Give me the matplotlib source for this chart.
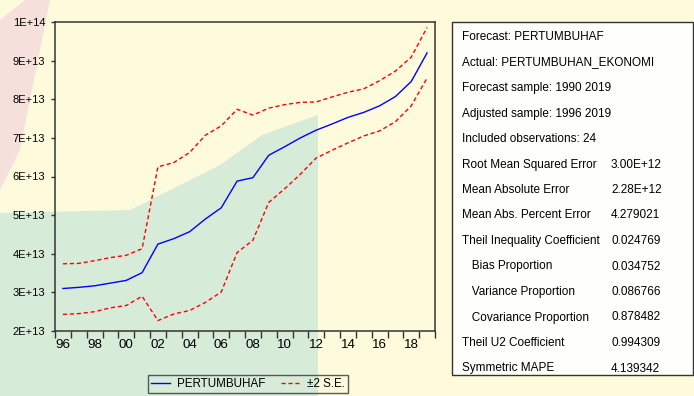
import numpy as np
import matplotlib
matplotlib.use("Agg")
import matplotlib.pyplot as plt
from matplotlib import font_manager
from matplotlib.patches import Rectangle, Polygon

# data (values in units of 1E+13)
years = list(range(1996, 2020))
forecast = [3.10, 3.13, 3.17, 3.24, 3.31, 3.51, 4.25, 4.39, 4.57, 4.90, 5.19, 5.88,
            5.97, 6.55, 6.77, 7.00, 7.20, 7.36, 7.53, 7.66, 7.83, 8.07, 8.46, 9.20]
upper = [3.74, 3.75, 3.82, 3.90, 3.96, 4.13, 6.25, 6.36, 6.62, 7.07, 7.31, 7.74,
         7.59, 7.77, 7.86, 7.92, 7.93, 8.06, 8.18, 8.27, 8.48, 8.73, 9.09, 9.86]
lower = [2.43, 2.45, 2.50, 2.60, 2.66, 2.90, 2.27, 2.44, 2.53, 2.74, 3.01, 4.03,
         4.35, 5.33, 5.68, 6.06, 6.48, 6.68, 6.87, 7.05, 7.18, 7.42, 7.83, 8.55]
ytick_vals = [2, 3, 4, 5, 6, 7, 8, 9, 10]
ytick_labels = ["2E+13", "3E+13", "4E+13", "5E+13", "6E+13", "7E+13", "8E+13", "9E+13", "1E+14"]
xlabel_years = list(range(1996, 2020, 2))

stat_labels = ["Forecast: PERTUMBUHAF", "Actual: PERTUMBUHAN_EKONOMI",
               "Forecast sample: 1990 2019", "Adjusted sample: 1996 2019",
               "Included observations: 24", "Root Mean Squared Error",
               "Mean Absolute Error", "Mean Abs. Percent Error",
               "Theil Inequality Coefficient", "   Bias Proportion",
               "   Variance Proportion", "   Covariance Proportion",
               "Theil U2 Coefficient", "Symmetric MAPE"]
stat_values = ["", "", "", "", "", "3.00E+12", "2.28E+12", "4.279021", "0.024769",
               "0.034752", "0.086766", "0.878482", "0.994309", "4.139342"]

# narrow font if there is one
names = {f.name for f in font_manager.fontManager.ttflist}
if "Liberation Sans Narrow" in names:
    narrow, k = "Liberation Sans Narrow", 1.0
else:
    narrow, k = "Liberation Sans", 0.8

W, H = 694, 396
fig = plt.figure(figsize=(W / 100, H / 100), dpi=100)
fig.patch.set_facecolor("#fdfbdb")

def fx(px):
    return px / W

def fy(py):
    return 1 - py / H

# faint watermark shapes behind everything
green = [(0, 396), (0, 213), (130, 210), (220, 165), (262, 135), (318, 115), (318, 396)]
fig.patches.append(Polygon([(fx(a), fy(b)) for a, b in green], closed=True,
                           transform=fig.transFigure, facecolor="#d6ecd9",
                           edgecolor="none", zorder=-2))
pink = [(0, 20), (25, 0), (50, 0), (20, 150), (0, 190)]
fig.patches.append(Polygon([(fx(a), fy(b)) for a, b in pink], closed=True,
                           transform=fig.transFigure, facecolor="#f6e0dc",
                           edgecolor="none", zorder=-2))

ax = fig.add_axes([fx(55), fy(331), fx(435) - fx(55), fy(22) - fy(331)])
ax.set_facecolor("none")

ax.plot(years, forecast, color="#0000ff", lw=1.0, label="PERTUMBUHAF")
ax.plot(years, upper, color="#ff0000", lw=1.0, ls=(0, (3, 2)), label="\u00b12 S.E.")
ax.plot(years, lower, color="#ff0000", lw=1.0, ls=(0, (3, 2)))

ax.set_xlim(1995.5, 2019.5)
ax.set_ylim(2, 10)
ax.set_xticks(np.arange(1995.5, 2020, 1))
ax.set_xticklabels([])
ax.set_xticks(xlabel_years, minor=True)
ax.set_xticklabels([f"{y % 100:02d}" for y in xlabel_years], minor=True,
                   family=narrow, fontsize=12 * k)
ax.tick_params(axis="x", which="major", direction="out", length=5, width=1, color="#333333")
ax.tick_params(axis="x", which="minor", length=0, pad=6)
ax.set_yticks(ytick_vals)
ax.set_yticklabels(ytick_labels, family="Liberation Sans", fontsize=8)
ax.tick_params(axis="y", direction="out", length=3, width=1, color="#333333", pad=4)
for s in ax.spines.values():
    s.set_color("#333333")
    s.set_linewidth(1.1)

leg = fig.legend(loc="upper left", bbox_to_anchor=(fx(148), fy(375)), ncol=2,
                 frameon=True, fancybox=False, edgecolor="#333333", facecolor="none",
                 prop={"family": narrow, "size": 10.5 * k}, handlelength=1.6,
                 columnspacing=1.4, borderpad=0.25, handletextpad=0.6,
                 borderaxespad=0)
leg.get_frame().set_linewidth(1.0)

# statistics box
fig.patches.append(Rectangle((fx(452), fy(375)), fx(693) - fx(452), fy(22) - fy(375),
                             transform=fig.transFigure, facecolor="#fefefa",
                             edgecolor="#333333", lw=1.0, zorder=1))
for i, (lab, val) in enumerate(zip(stat_labels, stat_values)):
    y = fy(37 + 25.5 * i)
    fig.text(fx(462), y, lab, family=narrow, fontsize=10.6 * k, va="center", ha="left")
    if val:
        fig.text(fx(611), y, val, family=narrow, fontsize=10.6 * k, va="center", ha="left")

fig.savefig("out.png", dpi=100, facecolor=fig.get_facecolor())
